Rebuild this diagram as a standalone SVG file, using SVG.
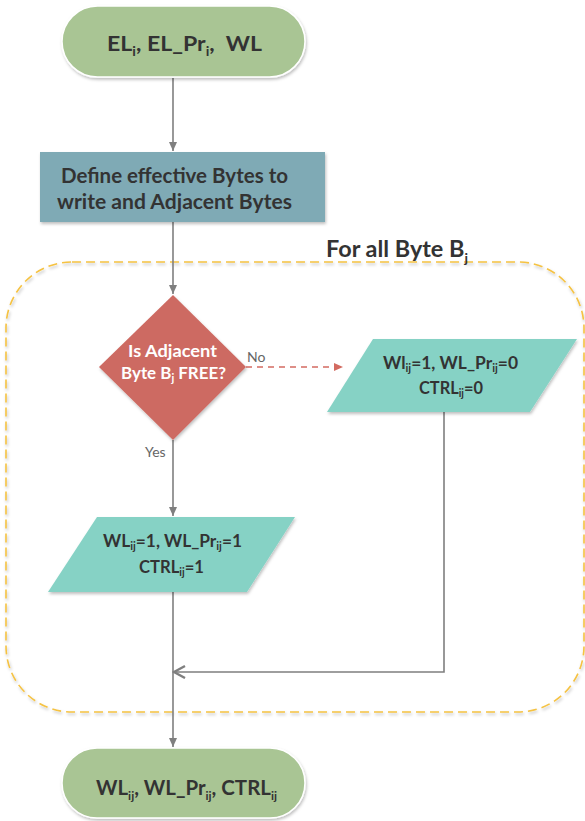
<svg xmlns="http://www.w3.org/2000/svg" width="585" height="821" viewBox="0 0 585 821">
<defs>
<filter id="sh" x="-10%" y="-10%" width="125%" height="130%">
<feDropShadow dx="1" dy="2" stdDeviation="1.5" flood-color="#000" flood-opacity="0.25"/>
</filter>
<marker id="ah" markerWidth="10" markerHeight="10" refX="9" refY="5" orient="auto" markerUnits="userSpaceOnUse">
<path d="M0,1 L9,5 L0,9 Z" fill="#7f7f7f"/>
</marker>
<marker id="ahr" markerWidth="10" markerHeight="10" refX="9" refY="5" orient="auto" markerUnits="userSpaceOnUse">
<path d="M0,1 L9,5 L0,9 Z" fill="#d36b61"/>
</marker>
<marker id="ao" markerWidth="14" markerHeight="16" refX="12" refY="7" orient="auto" markerUnits="userSpaceOnUse">
<path d="M1,1 L12,7 L1,13" fill="none" stroke="#7f7f7f" stroke-width="2.4"/>
</marker>
</defs>
<style>
.t{font-family:Lato,"Liberation Sans",Arial,sans-serif;font-weight:bold;fill:#333;text-anchor:middle}
.lbl{font-family:Lato,"Liberation Sans",Arial,sans-serif;font-size:14px;fill:#666}
.term{fill:#a9c594;stroke:#fff;stroke-width:1.5}
.proc{fill:#7faab5}
.dec{fill:#cd6a62}
.io{fill:#86d2c5}
.con{fill:none;stroke:#7f7f7f;stroke-width:1.6}
</style>
<g id="loop">
<rect x="6" y="262" width="578" height="450" rx="66" ry="66" fill="none" stroke="#f5c242" stroke-width="1.6" stroke-dasharray="9,5" filter="url(#sh)"/>
<text class="t" x="326" y="257" font-size="22" style="text-anchor:start" textLength="142" lengthAdjust="spacingAndGlyphs">For all Byte B<tspan font-size="13" dy="6">j</tspan></text>
</g>
<g id="connectors">
<line class="con" x1="173" y1="78" x2="173" y2="151" marker-end="url(#ah)"/>
<line class="con" x1="173" y1="222" x2="173" y2="294" marker-end="url(#ah)"/>
<line x1="246" y1="367" x2="343" y2="367" stroke="#d36b61" stroke-width="1.6" stroke-dasharray="6,5" fill="none" marker-end="url(#ahr)"/>
<line class="con" x1="173" y1="440" x2="173" y2="516" marker-end="url(#ah)"/>
<polyline class="con" points="444,412 444,672 174,672" marker-end="url(#ao)"/>
<line class="con" x1="173" y1="592" x2="173" y2="747" marker-end="url(#ah)"/>
<text class="lbl" x="247" y="362">No</text>
<text class="lbl" x="145" y="457">Yes</text>
</g>
<g id="start">
<rect class="term" x="62" y="6" width="243" height="71" rx="35.5" filter="url(#sh)"/>
<text class="t" x="184.5" y="51" font-size="21" textLength="155" lengthAdjust="spacingAndGlyphs">EL<tspan font-size="13" dy="5">i</tspan><tspan dy="-5">, EL_Pr</tspan><tspan font-size="13" dy="5">i</tspan><tspan dy="-5">,&#160; WL</tspan></text>
</g>
<g id="define">
<rect class="proc" x="40" y="152" width="285" height="70" filter="url(#sh)"/>
<text class="t" x="174.5" y="183" font-size="20.5" textLength="227" lengthAdjust="spacingAndGlyphs">Define effective Bytes to</text>
<text class="t" x="174.5" y="209" font-size="20.5" textLength="235" lengthAdjust="spacingAndGlyphs">write and Adjacent Bytes</text>
</g>
<g id="decision">
<polygon class="dec" points="173,295 246,367 173,440 99,367" filter="url(#sh)"/>
<text class="t" x="172.5" y="357" font-size="17" style="fill:#fff" textLength="89" lengthAdjust="spacingAndGlyphs">Is Adjacent</text>
<text class="t" x="173.5" y="379" font-size="17" style="fill:#fff" textLength="105" lengthAdjust="spacingAndGlyphs">Byte B<tspan font-size="11" dy="3">j</tspan><tspan dy="-3"> FREE?</tspan></text>
</g>
<g id="no-out">
<polygon class="io" points="373,339 577,339 530,412 327,412" filter="url(#sh)"/>
<text class="t" x="450.5" y="369" font-size="16.5" textLength="135" lengthAdjust="spacingAndGlyphs">Wl<tspan font-size="10.5" dy="3">ij</tspan><tspan dy="-3">=1, WL_Pr</tspan><tspan font-size="10.5" dy="3">ij</tspan><tspan dy="-3">=0</tspan></text>
<text class="t" x="451" y="394" font-size="16.5" textLength="64" lengthAdjust="spacingAndGlyphs">CTRL<tspan font-size="10.5" dy="3">ij</tspan><tspan dy="-3">=0</tspan></text>
</g>
<g id="yes-out">
<polygon class="io" points="97,517 295,517 247,592 48,592" filter="url(#sh)"/>
<text class="t" x="172.5" y="547" font-size="16.5" textLength="139" lengthAdjust="spacingAndGlyphs">WL<tspan font-size="10.5" dy="3">ij</tspan><tspan dy="-3">=1, WL_Pr</tspan><tspan font-size="10.5" dy="3">ij</tspan><tspan dy="-3">=1</tspan></text>
<text class="t" x="171.5" y="573" font-size="16.5" textLength="65" lengthAdjust="spacingAndGlyphs">CTRL<tspan font-size="10.5" dy="3">ij</tspan><tspan dy="-3">=1</tspan></text>
</g>
<g id="end">
<rect class="term" x="62" y="748" width="243" height="70" rx="35" filter="url(#sh)"/>
<text class="t" x="186.5" y="795" font-size="20.5" textLength="181" lengthAdjust="spacingAndGlyphs">WL<tspan font-size="12" dy="5">ij</tspan><tspan dy="-5">, WL_Pr</tspan><tspan font-size="12" dy="5">ij</tspan><tspan dy="-5">, CTRL</tspan><tspan font-size="12" dy="5">ij</tspan></text>
</g>
</svg>
